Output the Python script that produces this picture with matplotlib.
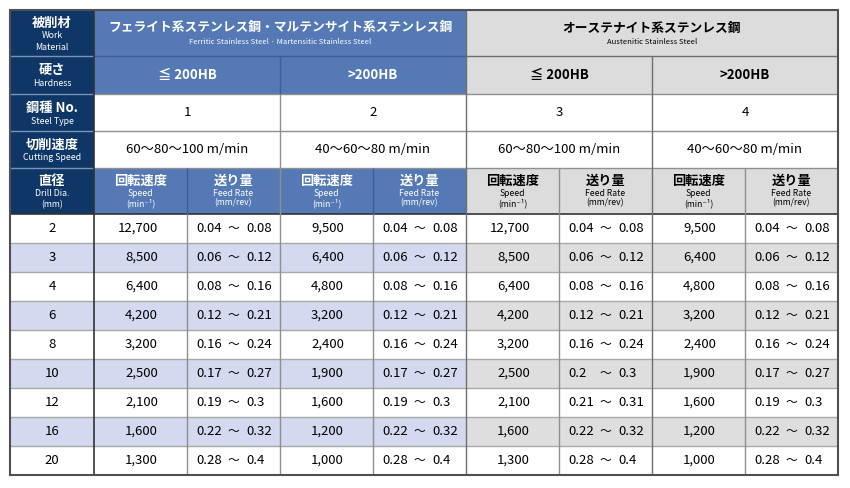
import matplotlib
matplotlib.use("Agg")
from matplotlib import pyplot as plt
from matplotlib.patches import Rectangle

plt.rcParams['font.family'] = ['Noto Sans CJK JP', 'DejaVu Sans']

# table data
drill_dia = [2, 3, 4, 6, 8, 10, 12, 16, 20]
speed_1 = [12700, 8500, 6400, 4200, 3200, 2500, 2100, 1600, 1300]
speed_2 = [9500, 6400, 4800, 3200, 2400, 1900, 1600, 1200, 1000]
speed_3 = [12700, 8500, 6400, 4200, 3200, 2500, 2100, 1600, 1300]
speed_4 = [9500, 6400, 4800, 3200, 2400, 1900, 1600, 1200, 1000]
feed_1 = [("0.04", "0.08"), ("0.06", "0.12"), ("0.08", "0.16"), ("0.12", "0.21"), ("0.16", "0.24"),
          ("0.17", "0.27"), ("0.19", "0.3"), ("0.22", "0.32"), ("0.28", "0.4")]
feed_2 = [("0.04", "0.08"), ("0.06", "0.12"), ("0.08", "0.16"), ("0.12", "0.21"), ("0.16", "0.24"),
          ("0.17", "0.27"), ("0.19", "0.3"), ("0.22", "0.32"), ("0.28", "0.4")]
feed_3 = [("0.04", "0.08"), ("0.06", "0.12"), ("0.08", "0.16"), ("0.12", "0.21"), ("0.16", "0.24"),
          ("0.2", "0.3"), ("0.21", "0.31"), ("0.22", "0.32"), ("0.28", "0.4")]
feed_4 = [("0.04", "0.08"), ("0.06", "0.12"), ("0.08", "0.16"), ("0.12", "0.21"), ("0.16", "0.24"),
          ("0.17", "0.27"), ("0.19", "0.3"), ("0.22", "0.32"), ("0.28", "0.4")]
speeds = [speed_1, speed_2, speed_3, speed_4]
feeds = [feed_1, feed_2, feed_3, feed_4]

materials = [("フェライト系ステンレス鋼・マルテンサイト系ステンレス鋼",
              "Ferritic Stainless Steel · Martensitic Stainless Steel"),
             ("オーステナイト系ステンレス鋼", "Austenitic Stainless Steel")]
hardness = ["≦ 200HB", ">200HB", "≦ 200HB", ">200HB"]
steel_type = ["1", "2", "3", "4"]
cutting_speed = ["60～80～100 m/min", "40～60～80 m/min", "60～80～100 m/min", "40～60～80 m/min"]
row_labels = [["被削材", "Work", "Material"], ["硬さ", "Hardness"], ["鋼種 No.", "Steel Type"],
              ["切削速度", "Cutting Speed"], ["直径", "Drill Dia.", "(mm)"]]
sub_heads = [["回転速度", "Speed", "(min⁻¹)"], ["送り量", "Feed Rate", "(mm/rev)"]]

# colours
navy = '#0e3767'
blue = '#5479b5'
lav = '#d3d9ee'
grey_head = '#dcdcdc'
grey_row = '#dedede'
grid = '#8f8f8f'

# geometry (pixels)
x0, c0w, cw = 10, 84, 93
y0 = 10
head_h = [46, 38, 37, 37, 46]
row_h = 29
ncol = 8
line_off = {2: [14, 27], 3: [13, 26, 37]}

fig = plt.figure(figsize=(8.5, 4.88), dpi=100)
ax = fig.add_axes([0, 0, 1, 1])
ax.set_xlim(0, 850)
ax.set_ylim(488, 0)
ax.axis('off')

xs = [x0 + c0w + i * cw for i in range(ncol + 1)]
ys = [y0]
for h in head_h:
    ys.append(ys[-1] + h)
data_top = ys[-1]
for i in range(len(drill_dia)):
    ys.append(ys[-1] + row_h)
bottom = ys[-1]
right = xs[-1]


def rect(x, y, w, h, fc):
    ax.add_patch(Rectangle((x, y), w, h, facecolor=fc, edgecolor='none', zorder=1))


# first column
rect(x0, y0, c0w, data_top - y0, navy)
for r, lines in enumerate(row_labels):
    offs = line_off[len(lines)]
    for j, s in enumerate(lines):
        ax.text(x0 + c0w / 2, ys[r] + offs[j], s, color='white',
                fontsize=9.5 if j == 0 else 6.3, fontweight='bold' if j == 0 else 'normal',
                ha='center', va='center', zorder=3)

# header fills
for g in range(2):
    fc = blue if g == 0 else grey_head
    tc = 'white' if g == 0 else 'black'
    xa = xs[g * 4]
    rect(xa, ys[0], cw * 4, head_h[0] + head_h[1], fc)
    rect(xa, ys[4], cw * 4, head_h[4], fc)
    jp, en = materials[g]
    ax.text(xa + cw * 2, ys[0] + 18, jp, color=tc, fontsize=9.2, fontweight='bold',
            ha='center', va='center', zorder=3)
    ax.text(xa + cw * 2, ys[0] + 32, en, color=tc, fontsize=5.5,
            ha='center', va='center', zorder=3)
    for k in range(2):
        ci = g * 4 + k * 2
        xc = xs[ci] + cw
        ax.text(xc, (ys[1] + ys[2]) / 2, hardness[ci // 2], color=tc, fontsize=9.5,
                fontweight='bold', ha='center', va='center', zorder=3)
        ax.text(xc, (ys[2] + ys[3]) / 2, steel_type[ci // 2], color='black', fontsize=9.5,
                ha='center', va='center', zorder=3)
        ax.text(xc, (ys[3] + ys[4]) / 2, cutting_speed[ci // 2], color='black', fontsize=9.5,
                ha='center', va='center', zorder=3)
        for j, lines in enumerate(sub_heads):
            xm = xs[ci + j] + cw / 2
            for m, (s, dy) in enumerate(zip(lines, [13, 26, 35])):
                ax.text(xm, ys[4] + dy, s, color=tc,
                        fontsize=9.5 if m == 0 else 6.2,
                        fontweight='bold' if m == 0 else 'normal',
                        ha='center', va='center', zorder=3)

# data rows
for i, d in enumerate(drill_dia):
    ya = ys[5 + i]
    ym = ya + row_h / 2
    if i % 2 == 1:
        rect(x0, ya, c0w + cw * 4, row_h, lav)
        rect(xs[4], ya, cw * 4, row_h, grey_row)
    ax.text(x0 + c0w / 2, ym, str(d), fontsize=9.5, ha='center', va='center', zorder=3)
    for k in range(4):
        xs_ = xs[k * 2]
        ax.text(xs_ + 64, ym, f"{speeds[k][i]:,}", fontsize=9.5, ha='right', va='center', zorder=3)
        lo, hi = feeds[k][i]
        xf = xs[k * 2 + 1]
        ax.text(xf + 9, ym, lo, fontsize=9.5, ha='left', va='center', zorder=3)
        ax.text(xf + 46.5, ym, "～", fontsize=8.5, ha='center', va='center', zorder=3)
        ax.text(xf + 59, ym, hi, fontsize=9.5, ha='left', va='center', zorder=3)


# grid lines
def hl(y, xa, xb, c, lw=1.0):
    ax.plot([xa, xb], [y, y], color=c, lw=lw, zorder=4, solid_capstyle='butt')


def vl(x, ya, yb, c, lw=1.0):
    ax.plot([x, x], [ya, yb], color=c, lw=lw, zorder=4, solid_capstyle='butt')


for r in range(1, 5):
    hl(ys[r], x0, xs[0], '#7d93b5')
for r in range(2, 5):
    hl(ys[r], xs[0], right, grid)
hl(ys[1], xs[0], xs[4], '#3f5f90')
hl(ys[1], xs[4], right, '#6e6e6e')
for r in range(6, len(ys) - 1):
    hl(ys[r], x0, right, '#a8a8a8')
hl(data_top, x0, right, '#333333', 1.2)

# vertical lines
vl(xs[4], ys[0], bottom, '#6e6e6e')
vl(xs[2], ys[1], ys[2], '#3f5f90')
vl(xs[2], ys[2], bottom, grid)
vl(xs[6], ys[1], bottom, '#6e6e6e')
for ci in (1, 3, 5, 7):
    vl(xs[ci], ys[4], data_top, '#3f5f90' if ci < 4 else grid)
    vl(xs[ci], data_top, bottom, grid)
vl(xs[0], y0, bottom, '#333333', 1.2)

# outer frame
ax.add_patch(Rectangle((x0, y0), right - x0, bottom - y0, facecolor='none',
                       edgecolor='#505050', lw=1.5, zorder=5))

fig.savefig("out.png", dpi=100)
